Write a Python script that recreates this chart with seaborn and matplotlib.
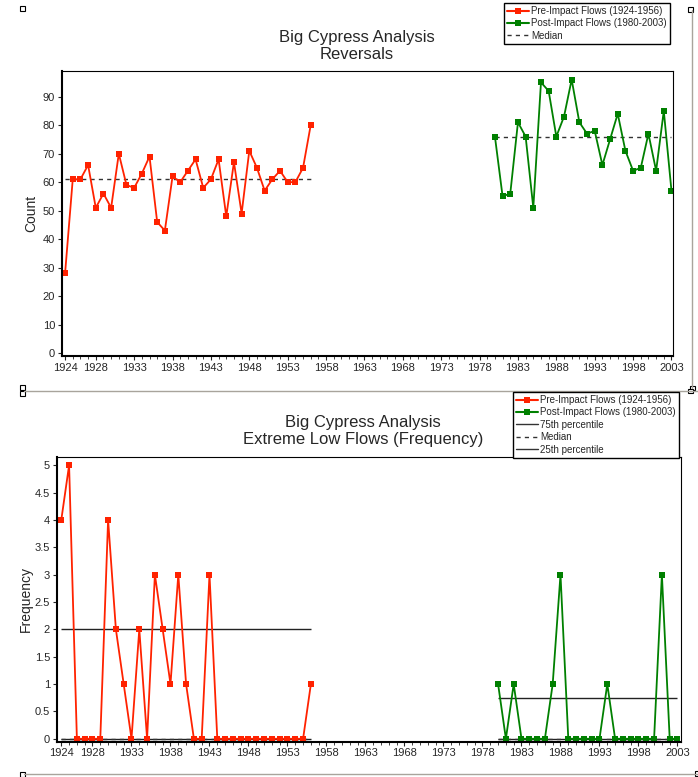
import numpy as np
import pandas as pd
import matplotlib
matplotlib.use('Agg')
import matplotlib.pyplot as plt
from matplotlib.lines import Line2D
from matplotlib.patches import Rectangle
from matplotlib.ticker import MultipleLocator, FormatStrFormatter
import seaborn as sns

# Reversals (count per year)
pre_years = list(range(1924, 1957))
post_years = list(range(1980, 2004))
pre_reversals = [28, 61, 61, 66, 51, 56, 51, 70, 59, 58, 63, 69, 46, 43, 62, 60, 64,
                 68, 58, 61, 68, 48, 67, 49, 71, 65, 57, 61, 64, 60, 60, 65, 80]
post_reversals = [76, 55, 56, 81, 76, 51, 95, 92, 76, 83, 96, 81, 77, 78, 66, 75,
                  84, 71, 64, 65, 77, 64, 85, 57]

# Extreme low flows (frequency per year)
pre_lowflow = [4, 5, 0, 0, 0, 0, 4, 2, 1, 0, 2, 0, 3, 2, 1, 3, 1, 0, 0, 3, 0, 0, 0,
               0, 0, 0, 0, 0, 0, 0, 0, 0, 1]
post_lowflow = [1, 0, 1, 0, 0, 0, 0, 1, 3, 0, 0, 0, 0, 0, 1, 0, 0, 0, 0, 0, 0, 3, 0, 0]

pre_label = 'Pre-Impact Flows (1924-1956)'
post_label = 'Post-Impact Flows (1980-2003)'
xtick_years = [1924, 1928, 1933, 1938, 1943, 1948, 1953, 1958, 1963, 1968, 1973,
               1978, 1983, 1988, 1993, 1998, 2003]

RED = '#ff2200'
GREEN = '#008000'
W, H = 698, 777

sns.set_style('ticks')
plt.rcParams['font.family'] = ['Liberation Sans', 'DejaVu Sans']
plt.rcParams['xtick.direction'] = 'out'
plt.rcParams['ytick.direction'] = 'out'


def make_df(values_pre, values_post):
    return pd.DataFrame({
        'year': pre_years + post_years,
        'value': values_pre + values_post,
        'period': [pre_label] * len(pre_years) + [post_label] * len(post_years),
    })


def draw_panel(ax, df, ylim, ystep, ylabel, label_x):
    sns.lineplot(data=df, x='year', y='value', hue='period',
                 palette={pre_label: RED, post_label: GREEN},
                 marker='s', markersize=4.2, markeredgewidth=0, linewidth=1.3,
                 legend=False, ax=ax)
    ax.set_ylim(*ylim)
    ax.yaxis.set_major_locator(MultipleLocator(ystep))
    ax.yaxis.set_major_formatter(FormatStrFormatter('%g'))
    ax.set_xticks(xtick_years)
    ax.xaxis.set_minor_locator(MultipleLocator(1))
    ax.tick_params(axis='both', which='major', labelsize=8, length=3, width=0.8, pad=2)
    ax.tick_params(axis='x', which='minor', length=2.5, width=0.6)
    ax.set_xlabel('')
    ax.set_ylabel(ylabel, fontsize=10)
    ax.yaxis.set_label_coords(label_x, 0.5)
    for side in ['left', 'bottom']:
        ax.spines[side].set_linewidth(1.5)
    for side in ['top', 'right']:
        ax.spines[side].set_linewidth(0.8)
    for s in ax.spines.values():
        s.set_color('black')


fig = plt.figure(figsize=(6.98, 7.77), dpi=100)

# ---------- top: reversals ----------
ax1 = fig.add_axes([62 / W, 1 - 356 / H, 611 / W, 285 / H])
ax1.set_xlim(1923.6, 2003.2)
draw_panel(ax1, make_df(pre_reversals, post_reversals), (-1, 99), 10, 'Count',
           (38 - 62) / 611)
for yrs, vals in [(pre_years, pre_reversals), (post_years, post_reversals)]:
    ax1.hlines(np.median(vals), yrs[0], yrs[-1], colors='#333333',
               linestyles=(0, (3, 3)), linewidth=1.0, zorder=1)

fig.text(357 / W, 1 - 46 / H, 'Big Cypress Analysis\nReversals',
         ha='center', va='center', fontsize=12, linespacing=1.15)

h_pre = Line2D([], [], color=RED, marker='s', markersize=4, markeredgewidth=0, linewidth=1.5)
h_post = Line2D([], [], color=GREEN, marker='s', markersize=4, markeredgewidth=0, linewidth=1.5)
h_med = Line2D([], [], color='#333333', linestyle=(0, (3, 3)), linewidth=1.0)
h_solid = Line2D([], [], color='#333333', linewidth=1.0)

leg_kw = dict(loc='upper right', fontsize=7, frameon=True, fancybox=False, framealpha=1,
              edgecolor='black', handlelength=2.2, handletextpad=0.3,
              borderpad=0.3, labelspacing=0.25, borderaxespad=0)

leg1 = fig.legend([h_pre, h_post, h_med], [pre_label, post_label, 'Median'],
                  bbox_to_anchor=(670 / W, 1 - 3 / H), **leg_kw)
leg1.get_frame().set_linewidth(1.0)

# ---------- bottom: extreme low flows ----------
ax2 = fig.add_axes([57 / W, 1 - 741.5 / H, 624 / W, 284.5 / H])
ax2.set_xlim(1923.45, 2003.45)
draw_panel(ax2, make_df(pre_lowflow, post_lowflow), (-0.05, 5.15), 0.5, 'Frequency',
           (33 - 57) / 624)
for yrs, vals in [(pre_years, pre_lowflow), (post_years, post_lowflow)]:
    p25, p50, p75 = np.percentile(vals, [25, 50, 75], method='weibull')
    ax2.hlines(p75, yrs[0], yrs[-1], colors='#222222', linewidth=1.0, zorder=1)
    ax2.hlines(p25, yrs[0], yrs[-1], colors='#222222', linewidth=1.0, zorder=1)
    ax2.hlines(p50, yrs[0], yrs[-1], colors='#333333', linestyles=(0, (3, 3)),
               linewidth=1.0, zorder=1)

fig.text(363 / W, 1 - 431 / H, 'Big Cypress Analysis\nExtreme Low Flows (Frequency)',
         ha='center', va='center', fontsize=12, linespacing=1.15)

leg2 = fig.legend([h_pre, h_post, h_solid, h_med, h_solid],
                  [pre_label, post_label, '75th percentile', 'Median', '25th percentile'],
                  bbox_to_anchor=(679 / W, 1 - 392 / H), **leg_kw)
leg2.get_frame().set_linewidth(1.0)

# ---------- frame borders and handles from the source screenshot ----------
gray = '#a8a49c'
fig.add_artist(Line2D([692 / W, 692 / W], [1 - 10 / H, 1 - 388 / H], color=gray, linewidth=1))
fig.add_artist(Line2D([24 / W, 1.0], [1 - 391 / H, 1 - 391 / H], color=gray, linewidth=1))
fig.add_artist(Line2D([24 / W, 1.0], [1 - 774 / H, 1 - 774 / H], color=gray, linewidth=1))
for (hx, hy) in [(22, 8), (690, 9), (692, 388), (22, 387), (22, 393), (22, 774), (690, 391), (697, 773)]:
    fig.add_artist(Rectangle(((hx - 2.5) / W, 1 - (hy + 2.5) / H), 5 / W, 5 / H,
                             facecolor='white', edgecolor='black', linewidth=0.8))

fig.savefig('out.png', dpi=100)
